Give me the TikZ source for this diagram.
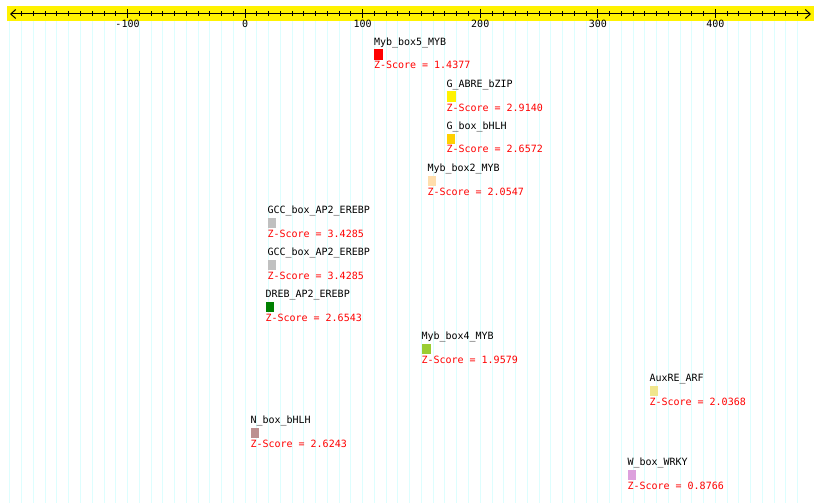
\documentclass[tikz,border=0pt]{standalone}
\usepackage{fontspec}
\setmainfont{DejaVu Sans Mono}
\usepackage{tikz}
\usetikzlibrary{arrows.meta, positioning}

\definecolor{gridcyan}{HTML}{DDFEFE}
\definecolor{boxgold}{HTML}{FFD000}
\definecolor{boxpeach}{HTML}{FFDEAD}
\definecolor{boxsilver}{HTML}{C0C0C0}
\definecolor{boxgreen}{HTML}{008000}
\definecolor{boxlime}{HTML}{9ACD32}
\definecolor{boxkhaki}{HTML}{F0E68C}
\definecolor{boxrosy}{HTML}{BC8F8F}
\definecolor{boxplum}{HTML}{DDA0DD}

\begin{document}
\begin{tikzpicture}[x=1pt, y=-1pt, line width=1pt,
  font=\fontsize{10}{12}\selectfont,
  ruler/.style={{Straight Barb[length=5pt,width=9pt]}-{Straight Barb[length=5pt,width=9pt]}},
  motif/.style={draw=none, inner sep=0pt, minimum height=10.5pt, anchor=north west},
  motifname/.style={anchor=base west, inner sep=0pt, text=black},
  zscore/.style={anchor=base west, inner sep=0pt, text=red}]

\useasboundingbox[fill=white] (0,0) rectangle (820,503);

% Grid lines every 10 positions
\foreach \u in {-200,-190,...,470}
  \draw[gridcyan] ({245.1+1.1757*\u},21) -- ({245.1+1.1757*\u},503);

% Ruler
\fill[yellow] (7,6) rectangle (814,21);
\coordinate (axisL) at (10,14);
\coordinate (axisR) at (811,14);
\draw[ruler] (axisL) -- (axisR);

% Minor and major ticks
\foreach \u in {-190,-180,...,470}
  \draw ({245.1+1.1757*\u},11.5) -- ({245.1+1.1757*\u},16.5);
\foreach \u in {-100,0,...,400} {
  \draw ({245.1+1.1757*\u},9.5) -- ({245.1+1.1757*\u},18.5);
  \node[anchor=base, inner sep=0pt] (lab\u) at ({245.1+1.1757*\u},28) {\u};
}

% Motifs: left edge / box width / name / Z-score / colour
\foreach \px/\w/\name/\z/\col [count=\i] in {
  373.5/8.5/Myb\_box5\_MYB/1.4377/red,
  446/9/G\_ABRE\_bZIP/2.9140/yellow,
  446/8/G\_box\_bHLH/2.6572/boxgold,
  427/8.5/Myb\_box2\_MYB/2.0547/boxpeach,
  267/8.3/GCC\_box\_AP2\_EREBP/3.4285/boxsilver,
  267/8.3/GCC\_box\_AP2\_EREBP/3.4285/boxsilver,
  265/8/DREB\_AP2\_EREBP/2.6543/boxgreen,
  421/9/Myb\_box4\_MYB/1.9579/boxlime,
  649/8/AuxRE\_ARF/2.0368/boxkhaki,
  250/8/N\_box\_bHLH/2.6243/boxrosy,
  627/8.3/W\_box\_WRKY/0.8766/boxplum} {
  \node[motif, fill=\col, minimum width=\w pt] (box\i) at ({\px},{49+42*(\i-1)}) {};
  \node[motifname] (name\i) at ({\px},{45.5+42*(\i-1)}) {\name};
  \node[zscore] (score\i) at ({\px},{69+42*(\i-1)}) {Z-Score = \z};
}

\end{tikzpicture}
\end{document}
